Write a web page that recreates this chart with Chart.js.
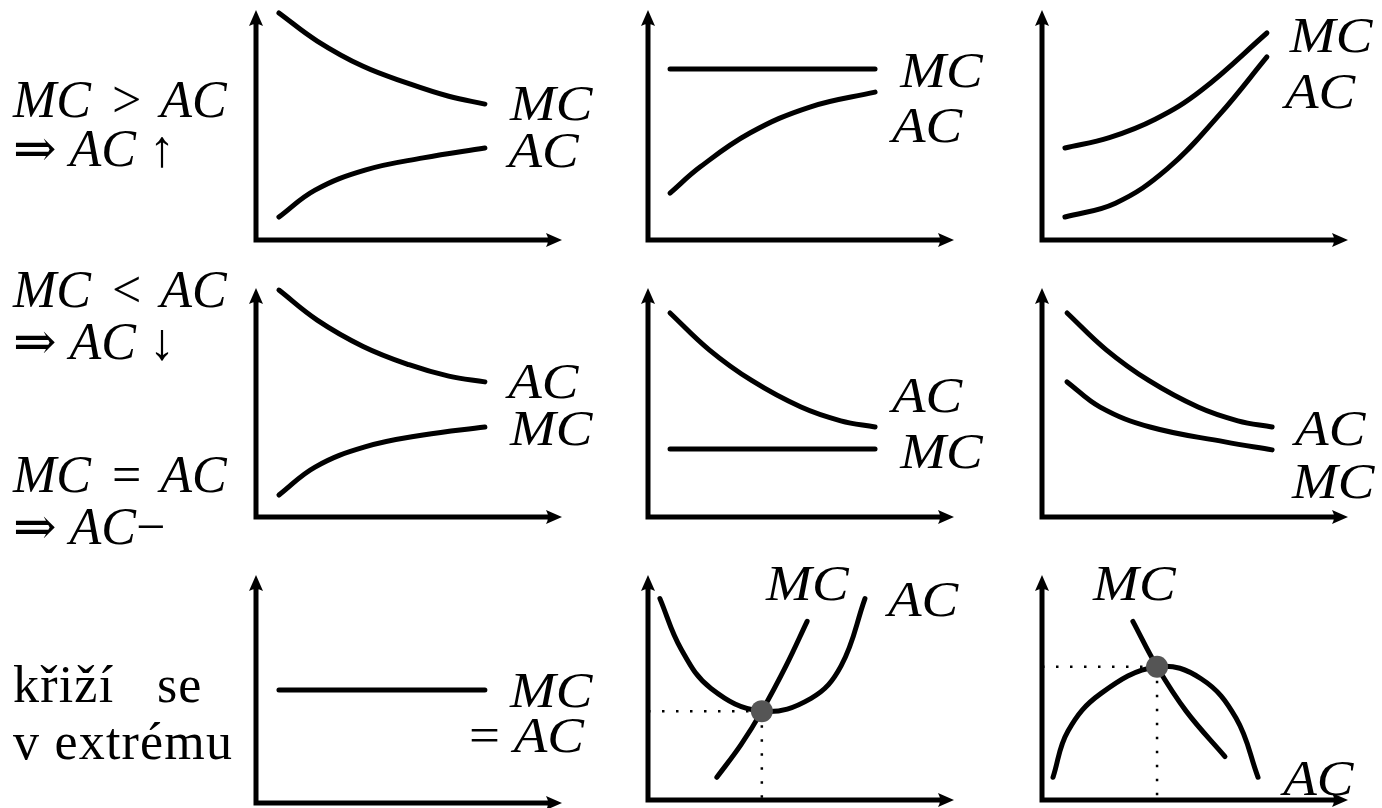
<!DOCTYPE html>
<html>
<head>
<meta charset="utf-8">
<script src="https://cdn.jsdelivr.net/npm/chart.js@4/dist/chart.umd.min.js"></script>
<style>
    html, body { margin: 0; padding: 0; background: #fff; }
    #board { position: relative; width: 1382px; height: 808px; overflow: hidden; }
    #board canvas { position: absolute; }
    .cap {
        position: absolute;
        left: 13px;
        font-family: "Liberation Serif", "DejaVu Serif", serif;
        font-size: 52px;
        line-height: 52px;
        white-space: pre;
        color: #000;
    }
    .cap i { font-style: italic; }
    .cap .rel { margin: 0 19px 0 21px; }
    .cap.words { letter-spacing: 1.2px; }
</style>
</head>
<body>
<div id="board"></div>
<script>
// curve points, each [x, y] on a 0..10 axis box (origin at the axis corner)
const p1MC = [[0.75, 9.87], [2.0, 8.65], [3.5, 7.55], [5.0, 6.8], [6.3, 6.25], [7.48, 5.91]];
const p1AC = [[0.75, 1.0], [1.93, 2.17], [3.56, 3.04], [5.46, 3.57], [7.48, 4.0]];

const p2MC = [[0.72, 7.43], [7.42, 7.43]];
const p2AC = [[0.72, 2.04], [1.7, 3.17], [3.33, 4.65], [5.29, 5.78], [7.42, 6.43]];

const p3MC = [[0.75, 4.0], [2.2, 4.45], [3.7, 5.25], [5.2, 6.5], [7.35, 9.0]];
const p3AC = [[0.75, 1.0], [2.4, 1.6], [4.1, 3.1], [5.8, 5.45], [7.35, 7.96]];

const p4AC = [[0.75, 9.91], [2.0, 8.6], [3.5, 7.45], [5.0, 6.65], [6.3, 6.15], [7.48, 5.9]];
const p4MC = [[0.75, 0.96], [1.93, 2.18], [3.56, 3.06], [5.46, 3.58], [7.48, 3.93]];

const p5AC = [[0.72, 8.91], [2.0, 7.3], [3.4, 5.95], [5.0, 4.8], [6.3, 4.2], [7.42, 3.93]];
const p5MC = [[0.72, 2.97], [7.42, 2.97]];

const p6AC = [[0.82, 8.91], [2.1, 7.3], [3.5, 5.95], [5.1, 4.8], [6.4, 4.2], [7.52, 3.93]];
const p6MC = [[0.82, 5.9], [1.9, 4.8], [3.53, 3.93], [5.98, 3.28], [7.52, 2.93]];

const p7MC = [[0.75, 4.96], [7.48, 4.96]];

const p8AC = [[0.39, 8.95], [1.08, 6.71], [2.06, 4.96], [3.72, 3.95], [5.33, 4.52], [6.31, 5.96], [7.09, 8.95]];
const p8MC = [[2.25, 1.01], [3.04, 2.46], [3.72, 3.95], [4.51, 5.96], [5.2, 7.94]];
const p8Dot = [3.72, 3.95];

const p9AC = [[0.36, 1.01], [0.85, 3.07], [1.93, 4.74], [3.76, 5.92], [5.2, 5.39], [6.34, 3.64], [7.06, 1.01]];
const p9MC = [[2.97, 7.94], [3.76, 5.92], [4.71, 3.95], [5.98, 1.93]];
const p9Dot = [3.76, 5.92];

const captions = ['MC > AC', '⇒ AC ↑', 'MC < AC', '⇒ AC ↓', 'MC = AC', '⇒ AC−', 'křiží   se', 'v extrému'];
const captionBaselines = [118, 167, 308, 360, 493, 545, 703, 760];

// panel boxes: axis corner x, arrow tip top y, axis corner y
const cols = [256, 648, 1042];
const rows = [[10, 240], [288, 517], [575, 803]];
const AXIS_W = 306;
const PAD = { left: 16, top: 16, right: 34, bottom: 8 };

const panels = [
    { col: 0, row: 0, curves: [p1MC, p1AC], tags: [['MC', 8.3, 5.2], ['AC', 8.25, 3.17]] },
    { col: 1, row: 0, curves: [p2MC, p2AC], tags: [['MC', 8.24, 6.65], ['AC', 7.97, 4.26]] },
    { col: 2, row: 0, curves: [p3MC, p3AC], tags: [['MC', 8.1, 8.17], ['AC', 7.94, 5.74]] },
    { col: 0, row: 1, curves: [p4AC, p4MC], tags: [['AC', 8.24, 5.2], ['MC', 8.3, 3.14]] },
    { col: 1, row: 1, curves: [p5AC, p5MC], tags: [['AC', 7.97, 4.59], ['MC', 8.24, 2.14]] },
    { col: 2, row: 1, curves: [p6AC, p6MC], tags: [['AC', 8.27, 3.14], ['MC', 8.17, 0.83]] },
    { col: 0, row: 2, curves: [p7MC], tags: [['MC', 8.3, 4.21], ['= AC', 6.96, 2.24]] },
    { col: 1, row: 2, curves: [p8AC, p8MC], dot: p8Dot, tags: [['MC', 3.86, 8.9], ['AC', 7.84, 8.16]] },
    { col: 2, row: 2, curves: [p9AC, p9MC], dot: p9Dot, tags: [['MC', 1.67, 8.9], ['AC', 7.88, 0.22]] },
];

const board = document.getElementById('board');

// left column captions, MC / AC set in italics, relations spaced like math
captions.forEach((text, i) => {
    const div = document.createElement('div');
    div.className = /[a-z]/.test(text) ? 'cap words' : 'cap';
    div.style.top = (captionBaselines[i] - 44) + 'px';
    div.innerHTML = text.replace(/&/g, '&amp;').replace(/</g, '&lt;').replace(/>/g, '&gt;')
        .replace(/ (&gt;|&lt;|=) /g, '<span class="rel">$1</span>')
        .replace(/MC/g, '<i>MC</i>').replace(/AC/g, '<i>AC</i>');
    board.appendChild(div);
});

const arrowAxes = {
    id: 'arrowAxes',
    beforeDatasetsDraw(chart) {
        const { ctx, chartArea: a } = chart;
        ctx.save();
        ctx.strokeStyle = '#000';
        ctx.fillStyle = '#000';
        ctx.lineWidth = 5;
        ctx.lineJoin = 'miter';
        ctx.beginPath();
        ctx.moveTo(a.left, a.top + 10);
        ctx.lineTo(a.left, a.bottom);
        ctx.lineTo(a.right - 10, a.bottom);
        ctx.stroke();

        ctx.beginPath();
        ctx.moveTo(a.left, a.top);
        ctx.lineTo(a.left - 7, a.top + 16);
        ctx.quadraticCurveTo(a.left, a.top + 12, a.left + 7, a.top + 16);
        ctx.closePath();
        ctx.fill();

        ctx.beginPath();
        ctx.moveTo(a.right, a.bottom);
        ctx.lineTo(a.right - 16, a.bottom - 7);
        ctx.quadraticCurveTo(a.right - 12, a.bottom, a.right - 16, a.bottom + 7);
        ctx.closePath();
        ctx.fill();
        ctx.restore();
    },
};

const TAG_FONT = '50px "Liberation Serif", "DejaVu Serif", serif';

function tagPlugin(tags) {
    return {
        id: 'tags',
        afterDatasetsDraw(chart) {
            const ctx = chart.ctx;
            tags.forEach(([text, x, y]) => {
                const px = chart.scales.x.getPixelForValue(x);
                const py = chart.scales.y.getPixelForValue(y);
                ctx.save();
                ctx.translate(px, py);
                ctx.scale(1.1, 1);
                ctx.fillStyle = '#000';
                ctx.textBaseline = 'alphabetic';
                let dx = 0;
                let label = text;
                if (text.startsWith('= ')) {
                    ctx.font = TAG_FONT;
                    ctx.fillText('=', 0, 0);
                    dx = ctx.measureText('= ').width;
                    label = text.slice(2);
                }
                ctx.font = 'italic ' + TAG_FONT;
                ctx.fillText(label, dx, 0);
                ctx.restore();
            });
        },
    };
}

const toXY = pts => pts.map(([x, y]) => ({ x, y }));

panels.forEach(p => {
    const [top, bottom] = rows[p.row];
    const canvas = document.createElement('canvas');
    const w = PAD.left + AXIS_W + PAD.right;
    const h = PAD.top + (bottom - top) + PAD.bottom;
    canvas.width = w;
    canvas.height = h;
    canvas.style.left = (cols[p.col] - PAD.left) + 'px';
    canvas.style.top = (top - PAD.top) + 'px';
    canvas.style.width = w + 'px';
    canvas.style.height = h + 'px';
    board.appendChild(canvas);

    const datasets = p.curves.map(c => ({
        data: toXY(c),
        borderColor: '#000',
        borderWidth: 5,
        borderCapStyle: 'round',
        pointRadius: 0,
        fill: false,
        tension: 0.4,
        clip: false,
        order: 1,
    }));

    if (p.dot) {
        const [dx, dy] = p.dot;
        const guide = pts => ({
            data: toXY(pts),
            borderColor: '#000',
            borderWidth: 2.5,
            borderDash: [2.5, 11.5],
            pointRadius: 0,
            tension: 0,
            clip: false,
            order: 2,
        });
        datasets.push(guide([[0, dy], [dx, dy]]));
        datasets.push(guide([[dx, dy], [dx, 0]]));
        datasets.push({
            data: toXY([p.dot]),
            showLine: false,
            pointRadius: 11,
            pointBackgroundColor: '#555',
            pointBorderWidth: 0,
            clip: false,
            order: 0,
        });
    }

    new Chart(canvas, {
        type: 'line',
        data: { datasets },
        options: {
            responsive: false,
            animation: false,
            devicePixelRatio: 1,
            events: [],
            layout: { padding: PAD },
            plugins: {
                legend: { display: false },
                tooltip: { enabled: false },
            },
            scales: {
                x: { type: 'linear', min: 0, max: 10, display: false },
                y: { type: 'linear', min: 0, max: 10, display: false },
            },
        },
        plugins: [arrowAxes, tagPlugin(p.tags)],
    });
});
</script>
</body>
</html>
